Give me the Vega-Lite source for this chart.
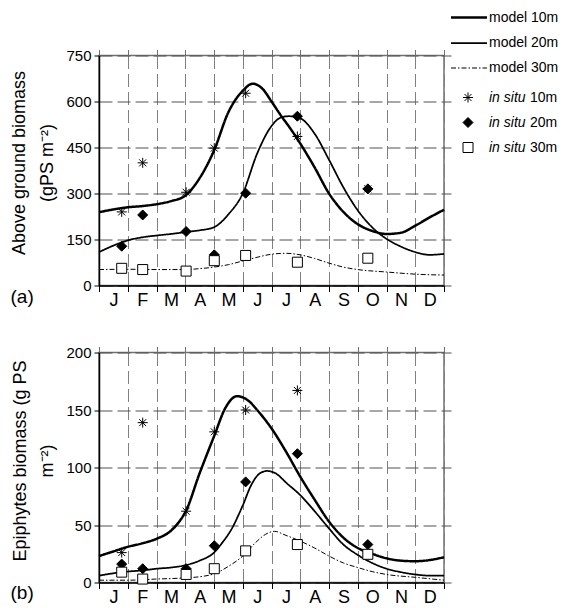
{
  "$schema": "https://vega.github.io/schema/vega-lite/v6.json",
  "padding": {"left": 9, "top": 8.5, "right": 5, "bottom": 5},
  "config": {
    "font": "Liberation Sans",
    "view": {"stroke": "#707070", "strokeWidth": 1.5},
    "axis": {"labelFont": "Liberation Sans", "titleFont": "Liberation Sans", "labelColor": "black", "titleColor": "black", "titleFontWeight": "normal"},
    "legend": {"labelFont": "Liberation Sans", "labelColor": "black", "padding": 0}
  },
  "datasets": {
    "topModel": [
      {"m": 0, "v": 239, "series": "model 10m"},
      {"m": 0.5, "v": 248, "series": "model 10m"},
      {"m": 1, "v": 255, "series": "model 10m"},
      {"m": 1.5, "v": 259, "series": "model 10m"},
      {"m": 2, "v": 265, "series": "model 10m"},
      {"m": 2.5, "v": 275, "series": "model 10m"},
      {"m": 3, "v": 293, "series": "model 10m"},
      {"m": 3.5, "v": 350, "series": "model 10m"},
      {"m": 4, "v": 440, "series": "model 10m"},
      {"m": 4.5, "v": 565, "series": "model 10m"},
      {"m": 5, "v": 635, "series": "model 10m"},
      {"m": 5.35, "v": 658, "series": "model 10m"},
      {"m": 5.7, "v": 640, "series": "model 10m"},
      {"m": 6, "v": 600, "series": "model 10m"},
      {"m": 6.33, "v": 554, "series": "model 10m"},
      {"m": 6.67, "v": 510, "series": "model 10m"},
      {"m": 7, "v": 463, "series": "model 10m"},
      {"m": 7.5, "v": 385, "series": "model 10m"},
      {"m": 8, "v": 300, "series": "model 10m"},
      {"m": 8.5, "v": 240, "series": "model 10m"},
      {"m": 9, "v": 200, "series": "model 10m"},
      {"m": 9.5, "v": 178, "series": "model 10m"},
      {"m": 10, "v": 168, "series": "model 10m"},
      {"m": 10.5, "v": 172, "series": "model 10m"},
      {"m": 11, "v": 195, "series": "model 10m"},
      {"m": 11.5, "v": 222, "series": "model 10m"},
      {"m": 12, "v": 247, "series": "model 10m"},
      {"m": 0, "v": 109, "series": "model 20m"},
      {"m": 0.5, "v": 130, "series": "model 20m"},
      {"m": 1, "v": 147, "series": "model 20m"},
      {"m": 1.5, "v": 157, "series": "model 20m"},
      {"m": 2, "v": 163, "series": "model 20m"},
      {"m": 2.5, "v": 168, "series": "model 20m"},
      {"m": 3, "v": 174, "series": "model 20m"},
      {"m": 3.5, "v": 180, "series": "model 20m"},
      {"m": 4, "v": 190, "series": "model 20m"},
      {"m": 4.5, "v": 232, "series": "model 20m"},
      {"m": 5, "v": 300, "series": "model 20m"},
      {"m": 5.5, "v": 430, "series": "model 20m"},
      {"m": 6, "v": 520, "series": "model 20m"},
      {"m": 6.33, "v": 548, "series": "model 20m"},
      {"m": 6.6, "v": 552, "series": "model 20m"},
      {"m": 7, "v": 545, "series": "model 20m"},
      {"m": 7.5, "v": 495, "series": "model 20m"},
      {"m": 8, "v": 410, "series": "model 20m"},
      {"m": 8.5, "v": 320, "series": "model 20m"},
      {"m": 9, "v": 245, "series": "model 20m"},
      {"m": 9.5, "v": 190, "series": "model 20m"},
      {"m": 10, "v": 152, "series": "model 20m"},
      {"m": 10.5, "v": 127, "series": "model 20m"},
      {"m": 11, "v": 109, "series": "model 20m"},
      {"m": 11.5, "v": 100, "series": "model 20m"},
      {"m": 12, "v": 103, "series": "model 20m"},
      {"m": 0, "v": 52, "series": "model 30m"},
      {"m": 1, "v": 53, "series": "model 30m"},
      {"m": 2, "v": 52, "series": "model 30m"},
      {"m": 3, "v": 52, "series": "model 30m"},
      {"m": 3.5, "v": 55, "series": "model 30m"},
      {"m": 4, "v": 60, "series": "model 30m"},
      {"m": 4.5, "v": 68, "series": "model 30m"},
      {"m": 5, "v": 80, "series": "model 30m"},
      {"m": 5.5, "v": 92, "series": "model 30m"},
      {"m": 6, "v": 102, "series": "model 30m"},
      {"m": 6.5, "v": 105, "series": "model 30m"},
      {"m": 7, "v": 100, "series": "model 30m"},
      {"m": 7.5, "v": 88, "series": "model 30m"},
      {"m": 8, "v": 73, "series": "model 30m"},
      {"m": 8.5, "v": 60, "series": "model 30m"},
      {"m": 9, "v": 52, "series": "model 30m"},
      {"m": 10, "v": 44, "series": "model 30m"},
      {"m": 11, "v": 37, "series": "model 30m"},
      {"m": 12, "v": 34, "series": "model 30m"}
    ],
    "topObs": [
      {"m": 0.79, "v": 240, "series": "10m"},
      {"m": 1.52, "v": 400, "series": "10m"},
      {"m": 3.03, "v": 304, "series": "10m"},
      {"m": 4.01, "v": 448, "series": "10m"},
      {"m": 5.1, "v": 627, "series": "10m"},
      {"m": 6.9, "v": 486, "series": "10m"},
      {"m": 9.35, "v": 315, "series": "10m"},
      {"m": 0.79, "v": 128, "series": "20m"},
      {"m": 1.52, "v": 230, "series": "20m"},
      {"m": 3.03, "v": 176, "series": "20m"},
      {"m": 4.01, "v": 100, "series": "20m"},
      {"m": 5.1, "v": 301, "series": "20m"},
      {"m": 6.9, "v": 552, "series": "20m"},
      {"m": 9.35, "v": 315, "series": "20m"},
      {"m": 0.79, "v": 56, "series": "30m"},
      {"m": 1.52, "v": 52, "series": "30m"},
      {"m": 3.03, "v": 47, "series": "30m"},
      {"m": 4.01, "v": 81, "series": "30m"},
      {"m": 5.1, "v": 98, "series": "30m"},
      {"m": 6.9, "v": 76, "series": "30m"},
      {"m": 9.35, "v": 89, "series": "30m"}
    ],
    "botModel": [
      {"m": 0, "v": 23, "series": "model 10m"},
      {"m": 0.5, "v": 27, "series": "model 10m"},
      {"m": 1, "v": 31, "series": "model 10m"},
      {"m": 1.5, "v": 34, "series": "model 10m"},
      {"m": 2, "v": 38, "series": "model 10m"},
      {"m": 2.5, "v": 45, "series": "model 10m"},
      {"m": 2.85, "v": 55, "series": "model 10m"},
      {"m": 3, "v": 61, "series": "model 10m"},
      {"m": 3.5, "v": 95, "series": "model 10m"},
      {"m": 4, "v": 127, "series": "model 10m"},
      {"m": 4.4, "v": 152, "series": "model 10m"},
      {"m": 4.8, "v": 162, "series": "model 10m"},
      {"m": 5.2, "v": 158, "series": "model 10m"},
      {"m": 5.5, "v": 150, "series": "model 10m"},
      {"m": 6, "v": 134, "series": "model 10m"},
      {"m": 6.5, "v": 114, "series": "model 10m"},
      {"m": 7, "v": 92, "series": "model 10m"},
      {"m": 7.5, "v": 72, "series": "model 10m"},
      {"m": 8, "v": 53, "series": "model 10m"},
      {"m": 8.5, "v": 39, "series": "model 10m"},
      {"m": 9, "v": 30, "series": "model 10m"},
      {"m": 9.5, "v": 25, "series": "model 10m"},
      {"m": 10, "v": 21, "series": "model 10m"},
      {"m": 10.5, "v": 19, "series": "model 10m"},
      {"m": 11, "v": 18.5, "series": "model 10m"},
      {"m": 11.5, "v": 19.5, "series": "model 10m"},
      {"m": 12, "v": 22, "series": "model 10m"},
      {"m": 0, "v": 6, "series": "model 20m"},
      {"m": 0.5, "v": 8, "series": "model 20m"},
      {"m": 1, "v": 9.5, "series": "model 20m"},
      {"m": 1.5, "v": 10.5, "series": "model 20m"},
      {"m": 2, "v": 12, "series": "model 20m"},
      {"m": 2.5, "v": 13, "series": "model 20m"},
      {"m": 3, "v": 15, "series": "model 20m"},
      {"m": 3.5, "v": 19, "series": "model 20m"},
      {"m": 4, "v": 26, "series": "model 20m"},
      {"m": 4.3, "v": 35, "series": "model 20m"},
      {"m": 4.6, "v": 46, "series": "model 20m"},
      {"m": 5, "v": 67, "series": "model 20m"},
      {"m": 5.3, "v": 85, "series": "model 20m"},
      {"m": 5.6, "v": 95, "series": "model 20m"},
      {"m": 5.85, "v": 97, "series": "model 20m"},
      {"m": 6.2, "v": 94, "series": "model 20m"},
      {"m": 6.5, "v": 87, "series": "model 20m"},
      {"m": 7, "v": 76, "series": "model 20m"},
      {"m": 7.5, "v": 62, "series": "model 20m"},
      {"m": 8, "v": 47, "series": "model 20m"},
      {"m": 8.5, "v": 33, "series": "model 20m"},
      {"m": 9, "v": 24, "series": "model 20m"},
      {"m": 9.5, "v": 17, "series": "model 20m"},
      {"m": 10, "v": 12, "series": "model 20m"},
      {"m": 10.5, "v": 9, "series": "model 20m"},
      {"m": 11, "v": 7, "series": "model 20m"},
      {"m": 11.5, "v": 6, "series": "model 20m"},
      {"m": 12, "v": 6, "series": "model 20m"},
      {"m": 0, "v": 2, "series": "model 30m"},
      {"m": 1, "v": 2, "series": "model 30m"},
      {"m": 2, "v": 3, "series": "model 30m"},
      {"m": 3, "v": 4, "series": "model 30m"},
      {"m": 3.5, "v": 5, "series": "model 30m"},
      {"m": 4, "v": 7.5, "series": "model 30m"},
      {"m": 4.5, "v": 14, "series": "model 30m"},
      {"m": 5, "v": 23, "series": "model 30m"},
      {"m": 5.5, "v": 36, "series": "model 30m"},
      {"m": 5.8, "v": 42, "series": "model 30m"},
      {"m": 6.1, "v": 44.5, "series": "model 30m"},
      {"m": 6.5, "v": 41, "series": "model 30m"},
      {"m": 7, "v": 36, "series": "model 30m"},
      {"m": 7.5, "v": 30, "series": "model 30m"},
      {"m": 8, "v": 23, "series": "model 30m"},
      {"m": 8.5, "v": 17, "series": "model 30m"},
      {"m": 9, "v": 13, "series": "model 30m"},
      {"m": 9.5, "v": 9.5, "series": "model 30m"},
      {"m": 10, "v": 7, "series": "model 30m"},
      {"m": 11, "v": 4.5, "series": "model 30m"},
      {"m": 12, "v": 2, "series": "model 30m"}
    ],
    "botObs": [
      {"m": 0.79, "v": 26, "series": "10m"},
      {"m": 1.52, "v": 139, "series": "10m"},
      {"m": 3.03, "v": 62, "series": "10m"},
      {"m": 4.01, "v": 131, "series": "10m"},
      {"m": 5.1, "v": 150, "series": "10m"},
      {"m": 6.9, "v": 167, "series": "10m"},
      {"m": 0.79, "v": 16, "series": "20m"},
      {"m": 1.52, "v": 12, "series": "20m"},
      {"m": 3.03, "v": 12, "series": "20m"},
      {"m": 4.01, "v": 32, "series": "20m"},
      {"m": 5.1, "v": 87.5, "series": "20m"},
      {"m": 6.9, "v": 112, "series": "20m"},
      {"m": 9.35, "v": 33, "series": "20m"},
      {"m": 0.79, "v": 9, "series": "30m"},
      {"m": 1.52, "v": 3, "series": "30m"},
      {"m": 3.03, "v": 7, "series": "30m"},
      {"m": 4.01, "v": 12, "series": "30m"},
      {"m": 5.1, "v": 27.5, "series": "30m"},
      {"m": 6.9, "v": 33, "series": "30m"},
      {"m": 9.35, "v": 24.5, "series": "30m"}
    ]
  },
  "spacing": 34,
  "resolve": {
    "scale": {"shape": "independent", "fill": "independent", "opacity": "independent", "strokeDash": "independent", "strokeWidth": "independent"},
    "legend": {"shape": "independent", "fill": "independent", "opacity": "independent", "strokeDash": "independent", "strokeWidth": "independent"}
  },
  "vconcat": [
    {
      "width": 345,
      "height": 230,
      "resolve": {"axis": {"x": "independent", "y": "independent"}},
      "layer": [
        {
          "data": {"name": "topModel"},
          "mark": {"type": "line", "color": "black", "interpolate": "monotone"},
          "encoding": {
            "x": {"field": "m", "type": "quantitative", "scale": {"domain": [0, 12], "nice": false},
              "axis": {"orient": "bottom", "values": [0, 1, 2, 3, 4, 5, 6, 7, 8, 9, 10, 11, 12], "grid": true, "gridDash": [13, 5], "gridColor": "#808080", "tickSize": 6, "tickColor": "black", "domainColor": "black", "domainWidth": 1.5,
                "labelExpr": "datum.value < 12 ? ['J','F','M','A','M','J','J','A','S','O','N','D'][datum.value] : ''",
                "labelOffset": 14.4, "labelFontSize": 18, "labelPadding": 0, "labelFlush": false, "labelOverlap": false, "labelBound": false,
                "title": "(a)", "titleX": -89, "titleY": 11, "titleAlign": "left", "titleBaseline": "middle", "titleFontSize": 19, "titleAngle": 0}},
            "y": {"field": "v", "type": "quantitative", "scale": {"domain": [0, 750], "nice": false},
              "axis": {"orient": "left", "values": [0, 150, 300, 450, 600, 750], "grid": true, "gridDash": [13, 5], "gridColor": "#505050", "tickSize": 5, "tickColor": "black", "domainColor": "black", "domainWidth": 1.5, "labelFontSize": 15, "labelPadding": 3,
                "title": ["Above ground biomass", "(gPS m⁻²)"], "titleFontSize": 18, "titleX": -79.5, "titleY": 107, "titleAngle": -90, "titleAlign": "center", "titleBaseline": "middle", "titleLineHeight": 28}},
            "strokeDash": {"field": "series", "type": "nominal",
              "scale": {"domain": ["model 10m", "model 20m", "model 30m"], "range": [[1, 0], [1, 0], [5, 2, 1.5, 2]]},
              "legend": {"orient": "none", "legendX": 362.5, "legendY": -45.5, "title": null, "symbolType": "M-3,0L3,0", "symbolSize": 144, "symbolStrokeColor": "black", "symbolFillColor": "transparent", "labelFontSize": 14, "labelOffset": 12.5, "rowPadding": 11}},
            "strokeWidth": {"field": "series", "type": "nominal",
              "scale": {"domain": ["model 10m", "model 20m", "model 30m"], "range": [2.5, 1, 1]},
              "legend": {"orient": "none", "legendX": 362.5, "legendY": -45.5, "title": null, "symbolType": "M-3,0L3,0", "symbolSize": 144, "symbolStrokeColor": "black", "symbolFillColor": "transparent", "labelFontSize": 14, "labelOffset": 12.5, "rowPadding": 11}}
          }
        },
        {
          "data": {"name": "topObs"},
          "mark": {"type": "point", "filled": true, "stroke": "black", "strokeWidth": 1, "size": 100, "opacity": 1},
          "encoding": {
            "x": {"field": "m", "type": "quantitative", "scale": {"domain": [0, 12], "nice": false},
              "axis": {"orient": "top", "values": [0, 1, 2, 3, 4, 5, 6, 7, 8, 9, 10, 11, 12], "grid": false, "labels": false, "domain": false, "tickSize": 6, "tickColor": "#707070", "title": null}},
            "y": {"field": "v", "type": "quantitative", "scale": {"domain": [0, 750], "nice": false},
              "axis": {"orient": "right", "values": [0, 150, 300, 450, 600, 750], "grid": false, "labels": false, "domain": false, "tickSize": 7, "tickColor": "#505050", "title": null}},
            "shape": {"field": "series", "type": "nominal",
              "scale": {"domain": ["10m", "20m", "30m"], "range": ["M0,-1L0,1M-1,0L1,0M-0.7,-0.7L0.7,0.7M-0.7,0.7L0.7,-0.7", "diamond", "square"]},
              "legend": {"orient": "none", "legendX": 362, "legendY": 35, "title": null, "labelExpr": "'in situ'", "labelFontStyle": "italic", "labelFontSize": 14, "labelOffset": 14, "rowPadding": 11, "symbolSize": 100, "symbolStrokeColor": "black", "symbolStrokeWidth": 1, "symbolOpacity": 1,
                "encode": {"symbols": {"update": {"stroke": {"value": "black"}, "strokeWidth": {"value": 1}, "opacity": {"value": 1}}}}}},
            "fill": {"field": "series", "type": "nominal",
              "scale": {"domain": ["10m", "20m", "30m"], "range": ["transparent", "black", "white"]},
              "legend": {"orient": "none", "legendX": 362, "legendY": 35, "title": null, "labelExpr": "'in situ'", "labelFontStyle": "italic", "labelFontSize": 14, "labelOffset": 14, "rowPadding": 11, "symbolSize": 100, "symbolStrokeColor": "black", "symbolStrokeWidth": 1, "symbolOpacity": 1,
                "encode": {"symbols": {"update": {"stroke": {"value": "black"}, "strokeWidth": {"value": 1}, "opacity": {"value": 1}}}}}},
            "opacity": {"field": "series", "type": "ordinal",
              "scale": {"range": [1, 1, 1]},
              "legend": {"orient": "none", "legendX": 417, "legendY": 35, "title": null, "labelFontSize": 14, "labelOffset": 0, "rowPadding": 11, "symbolType": "M0,0", "symbolSize": 0, "symbolStrokeWidth": 0, "symbolFillColor": "transparent", "symbolStrokeColor": "transparent"}}
          }
        }
      ]
    },
    {
      "width": 345,
      "height": 230,
      "resolve": {"axis": {"x": "independent", "y": "independent"}},
      "layer": [
        {
          "data": {"name": "botModel"},
          "mark": {"type": "line", "color": "black", "interpolate": "monotone"},
          "encoding": {
            "x": {"field": "m", "type": "quantitative", "scale": {"domain": [0, 12], "nice": false},
              "axis": {"orient": "bottom", "values": [0, 1, 2, 3, 4, 5, 6, 7, 8, 9, 10, 11, 12], "grid": true, "gridDash": [13, 5], "gridColor": "#808080", "tickSize": 6, "tickColor": "black", "domainColor": "black", "domainWidth": 1.5,
                "labelExpr": "datum.value < 12 ? ['J','F','M','A','M','J','J','A','S','O','N','D'][datum.value] : ''",
                "labelOffset": 14.4, "labelFontSize": 18, "labelPadding": 0, "labelFlush": false, "labelOverlap": false, "labelBound": false,
                "title": "(b)", "titleX": -89, "titleY": 10, "titleAlign": "left", "titleBaseline": "middle", "titleFontSize": 19, "titleAngle": 0}},
            "y": {"field": "v", "type": "quantitative", "scale": {"domain": [0, 200], "nice": false},
              "axis": {"orient": "left", "values": [0, 50, 100, 150, 200], "grid": true, "gridDash": [13, 5], "gridColor": "#505050", "tickSize": 5, "tickColor": "black", "domainColor": "black", "domainWidth": 1.5, "labelFontSize": 15, "labelPadding": 3,
                "title": ["Epiphytes biomass (g PS", "m⁻²)"], "titleFontSize": 18, "titleX": -78.5, "titleY": 108, "titleAngle": -90, "titleAlign": "center", "titleBaseline": "middle", "titleLineHeight": 27}},
            "strokeDash": {"field": "series", "type": "nominal",
              "scale": {"domain": ["model 10m", "model 20m", "model 30m"], "range": [[1, 0], [1, 0], [5, 2, 1.5, 2]]}, "legend": null},
            "strokeWidth": {"field": "series", "type": "nominal",
              "scale": {"domain": ["model 10m", "model 20m", "model 30m"], "range": [2.5, 1, 1]}, "legend": null}
          }
        },
        {
          "data": {"name": "botObs"},
          "mark": {"type": "point", "filled": true, "stroke": "black", "strokeWidth": 1, "size": 100, "opacity": 1},
          "encoding": {
            "x": {"field": "m", "type": "quantitative", "scale": {"domain": [0, 12], "nice": false},
              "axis": {"orient": "top", "values": [0, 1, 2, 3, 4, 5, 6, 7, 8, 9, 10, 11, 12], "grid": false, "labels": false, "domain": false, "tickSize": 6, "tickColor": "#707070", "title": null}},
            "y": {"field": "v", "type": "quantitative", "scale": {"domain": [0, 200], "nice": false},
              "axis": {"orient": "right", "values": [0, 50, 100, 150, 200], "grid": false, "labels": false, "domain": false, "tickSize": 7, "tickColor": "#505050", "title": null}},
            "shape": {"field": "series", "type": "nominal",
              "scale": {"domain": ["10m", "20m", "30m"], "range": ["M0,-1L0,1M-1,0L1,0M-0.7,-0.7L0.7,0.7M-0.7,0.7L0.7,-0.7", "diamond", "square"]}, "legend": null},
            "fill": {"field": "series", "type": "nominal",
              "scale": {"domain": ["10m", "20m", "30m"], "range": ["transparent", "black", "white"]}, "legend": null}
          }
        }
      ]
    }
  ]
}
